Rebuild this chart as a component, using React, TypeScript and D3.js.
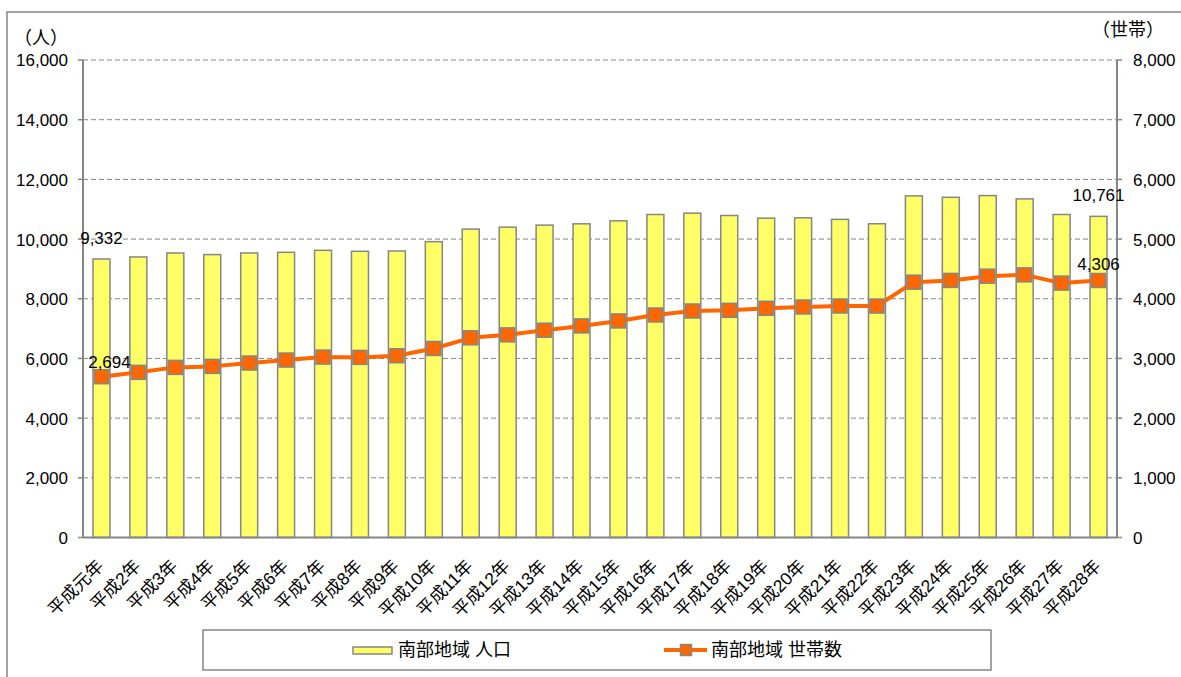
import React from "react";
import * as d3 from "d3";

const categories = [
  "平成元年", "平成2年", "平成3年", "平成4年", "平成5年", "平成6年", "平成7年",
  "平成8年", "平成9年", "平成10年", "平成11年", "平成12年", "平成13年", "平成14年",
  "平成15年", "平成16年", "平成17年", "平成18年", "平成19年", "平成20年", "平成21年",
  "平成22年", "平成23年", "平成24年", "平成25年", "平成26年", "平成27年", "平成28年",
];

// 南部地域 人口 (left axis)
const population = [
  9332, 9400, 9533, 9480, 9533, 9556, 9623, 9590, 9600, 9913, 10333, 10400, 10467, 10511,
  10611, 10823, 10867, 10790, 10700, 10711, 10660, 10513, 11447, 11400, 11457, 11347, 10823, 10761,
];

// 南部地域 世帯数 (right axis)
const households = [
  2694, 2767, 2850, 2867, 2923, 2973, 3023, 3017, 3045, 3167, 3345, 3395, 3473, 3545,
  3628, 3728, 3795, 3806, 3840, 3862, 3878, 3878, 4278, 4307, 4378, 4400, 4262, 4306,
];

const leftTicks = [0, 2000, 4000, 6000, 8000, 10000, 12000, 14000, 16000];
const rightTicks = [0, 1000, 2000, 3000, 4000, 5000, 6000, 7000, 8000];

const W = 1181;
const H = 677;
const font = "'Liberation Sans', Arial, 'Noto Sans CJK JP', sans-serif";
const gray = "#868686";
const yellow = "#ffff66";
const orange = "#ff6600";

const App = () => {
  const x = d3.scaleBand<string>().domain(categories).range([83, 1117]).paddingInner(0.54).paddingOuter(0.27);
  const yL = d3.scaleLinear().domain([0, 16000]).range([537.5, 60]);
  const yR = d3.scaleLinear().domain([0, 8000]).range([537.5, 60]);
  const fmt = d3.format(",");
  const cx = (c: string) => (x(c) as number) + x.bandwidth() / 2;

  const line = d3
    .line<number>()
    .x((_, i) => cx(categories[i]))
    .y((d) => yR(d));

  const last = categories.length - 1;

  return (
    <svg width={W} height={H} style={{ position: "absolute", left: 0, top: 0 }} fontFamily={font}>
      <rect x={0} y={0} width={W} height={H} fill="#fff" />
      <rect x={7} y={12} width={W + 20} height={H + 20} fill="none" stroke={gray} strokeWidth={1.5} />

      {/* gridlines */}
      {leftTicks.slice(1).map((t) => (
        <line key={t} x1={83} x2={1117} y1={yL(t)} y2={yL(t)} stroke={gray} strokeWidth={1} strokeDasharray="5,3" />
      ))}

      {/* left axis */}
      <line x1={83} x2={83} y1={60} y2={537.5} stroke={gray} strokeWidth={2} />
      {leftTicks.map((t) => (
        <g key={t}>
          <line x1={78} x2={83} y1={yL(t)} y2={yL(t)} stroke={gray} strokeWidth={1.5} />
          <text x={68} y={yL(t)} dy="0.38em" textAnchor="end" fontSize={17} fill="#000">
            {fmt(t)}
          </text>
        </g>
      ))}
      <text x={41} y={38} dy="0.35em" textAnchor="middle" fontSize={18} fill="#000">（人）</text>

      {/* right axis */}
      <line x1={1117} x2={1117} y1={60} y2={537.5} stroke={gray} strokeWidth={2} />
      {rightTicks.map((t) => (
        <g key={t}>
          <line x1={1117} x2={1122} y1={yR(t)} y2={yR(t)} stroke={gray} strokeWidth={1.5} />
          <text x={1133} y={yR(t)} dy="0.38em" textAnchor="start" fontSize={17} fill="#000">
            {fmt(t)}
          </text>
        </g>
      ))}
      <text x={1128} y={30} dy="0.35em" textAnchor="middle" fontSize={18} fill="#000">（世帯）</text>

      {/* bars */}
      {categories.map((c, i) => (
        <rect
          key={c}
          x={x(c)}
          y={yL(population[i])}
          width={x.bandwidth()}
          height={yL(0) - yL(population[i])}
          fill={yellow}
          stroke={gray}
          strokeWidth={1.5}
        />
      ))}

      {/* baseline */}
      <line x1={83} x2={1117} y1={537.5} y2={537.5} stroke={gray} strokeWidth={2} />

      {/* households line */}
      <path d={line(households) || ""} fill="none" stroke={orange} strokeWidth={4} strokeLinejoin="round" />
      {categories.map((c, i) => (
        <rect
          key={c}
          x={cx(c) - 7}
          y={yR(households[i]) - 7}
          width={14}
          height={14}
          fill={orange}
          stroke={gray}
          strokeWidth={1.5}
        />
      ))}

      {/* data labels */}
      <text x={cx(categories[0])} y={yL(population[0]) - 15} textAnchor="middle" fontSize={17} fill="#000">
        {fmt(population[0])}
      </text>
      <text x={cx(categories[last])} y={yL(population[last]) - 15} textAnchor="middle" fontSize={17} fill="#000">
        {fmt(population[last])}
      </text>
      <text x={cx(categories[0]) + 8} y={yR(households[0]) - 9} textAnchor="middle" fontSize={17} fill="#000">
        {fmt(households[0])}
      </text>
      <text x={cx(categories[last])} y={yR(households[last]) - 10} textAnchor="middle" fontSize={17} fill="#000">
        {fmt(households[last])}
      </text>

      {/* category labels */}
      {categories.map((c) => (
        <text
          key={c}
          transform={`translate(${cx(c) - 1},563) rotate(-45)`}
          dominantBaseline="central"
          textAnchor="end"
          fontSize={17.5}
          fill="#000"
        >
          {c}
        </text>
      ))}

      {/* legend */}
      <rect x={203} y={630} width={788} height={40} fill="#fff" stroke={gray} strokeWidth={1.5} />
      <rect x={353} y={647} width={39} height={7} fill={yellow} stroke={gray} strokeWidth={1.5} />
      <text x={398} y={650} dy="0.36em" fontSize={18} fill="#000">南部地域 人口</text>
      <line x1={664} x2={707} y1={650} y2={650} stroke={orange} strokeWidth={4} />
      <rect x={680.5} y={644.5} width={11} height={11} fill={orange} stroke={gray} strokeWidth={1.5} />
      <text x={711} y={650} dy="0.36em" fontSize={18} fill="#000">南部地域 世帯数</text>
    </svg>
  );
};

export default App;
